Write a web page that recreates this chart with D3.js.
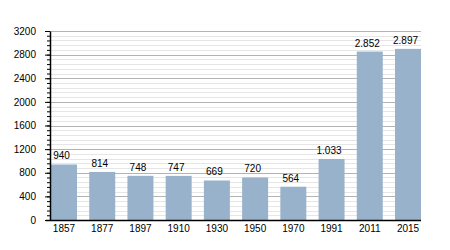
<!DOCTYPE html>
<html>
<head>
<meta charset="utf-8">
<script src="https://cdn.jsdelivr.net/npm/d3@7"></script>
<style>
  body { margin: 0; background: #fff; }
  text { font-family: "Liberation Sans", Arial, sans-serif; }
</style>
</head>
<body>
<div id="chart"></div>
<script>
const years = ["1857", "1877", "1897", "1910", "1930", "1950", "1970", "1991", "2011", "2015"];
const population = [940, 814, 748, 747, 669, 720, 564, 1033, 2852, 2897];
const yMax = 3200;
const majorStep = 400;
const minorStep = 80;

const width = 450;
const height = 250;
const margin = { top: 31, right: 29, bottom: 30, left: 50 };

const svg = d3.select("#chart")
              .append("svg")
              .attr("width", width)
              .attr("height", height);

const x = d3.scaleBand()
            .domain(years)
            .range([margin.left + 1, width - margin.right])
            .paddingInner(0.32)
            .paddingOuter(0);

const y = d3.scaleLinear()
            .domain([0, yMax])
            .range([height - margin.bottom, margin.top]);

const minorTicks = d3.range(0, yMax + 1, minorStep);
const majorTicks = d3.range(0, yMax + 1, majorStep);

// Minor grid
svg.append("g")
   .selectAll("line")
   .data(minorTicks.filter(d => d % majorStep !== 0))
   .join("line")
   .attr("x1", margin.left)
   .attr("x2", width - margin.right)
   .attr("y1", d => Math.round(y(d)) + 0.5)
   .attr("y2", d => Math.round(y(d)) + 0.5)
   .attr("stroke", "#e6e6e6");

// Major grid
svg.append("g")
   .selectAll("line")
   .data(majorTicks)
   .join("line")
   .attr("x1", margin.left)
   .attr("x2", width - margin.right)
   .attr("y1", d => Math.round(y(d)) + 0.5)
   .attr("y2", d => Math.round(y(d)) + 0.5)
   .attr("stroke", "#b3b3b3");

// Bars
svg.append("g")
   .selectAll("rect")
   .data(years)
   .join("rect")
   .attr("x", d => x(d))
   .attr("width", x.bandwidth())
   .attr("y", (d, i) => y(population[i]))
   .attr("height", (d, i) => y(0) - y(population[i]))
   .attr("fill", "#99b2cc");

// Value labels (dot as thousands separator)
const fmt = d3.formatLocale({ decimal: ",", thousands: ".", grouping: [3], currency: ["", ""] }).format(",");
svg.append("g")
   .selectAll("text")
   .data(years)
   .join("text")
   .attr("x", d => x(d) + x.bandwidth() / 2 - 2.5)
   .attr("y", (d, i) => y(population[i]) - 5)
   .attr("text-anchor", "middle")
   .style("font-size", "10px")
   .text((d, i) => fmt(population[i]));

// Y axis with minor ticks
svg.append("g")
   .attr("transform", `translate(${margin.left}, 0)`)
   .call(d3.axisLeft(y).tickValues(minorTicks).tickSize(3).tickFormat(""))
   .call(g => g.select(".domain").remove());

svg.append("g")
   .attr("transform", `translate(${margin.left}, 0)`)
   .call(d3.axisLeft(y).tickValues(majorTicks).tickSize(5).tickPadding(9).tickSizeOuter(0).tickFormat(d3.format("d")))
   .call(g => g.selectAll("text").style("font-size", "10px").attr("fill", "#000"))
   .call(g => g.select(".domain").attr("stroke-width", 1.5));

// X axis
svg.append("g")
   .attr("transform", `translate(0, ${y(0)})`)
   .call(d3.axisBottom(x).tickSize(0).tickPadding(5))
   .call(g => g.select(".domain").attr("d", `M${margin.left - 4},0.5H${width - margin.right}`).attr("stroke-width", 1.5))
   .call(g => g.selectAll("text").style("font-size", "10px").attr("fill", "#000"));
</script>
</body>
</html>
